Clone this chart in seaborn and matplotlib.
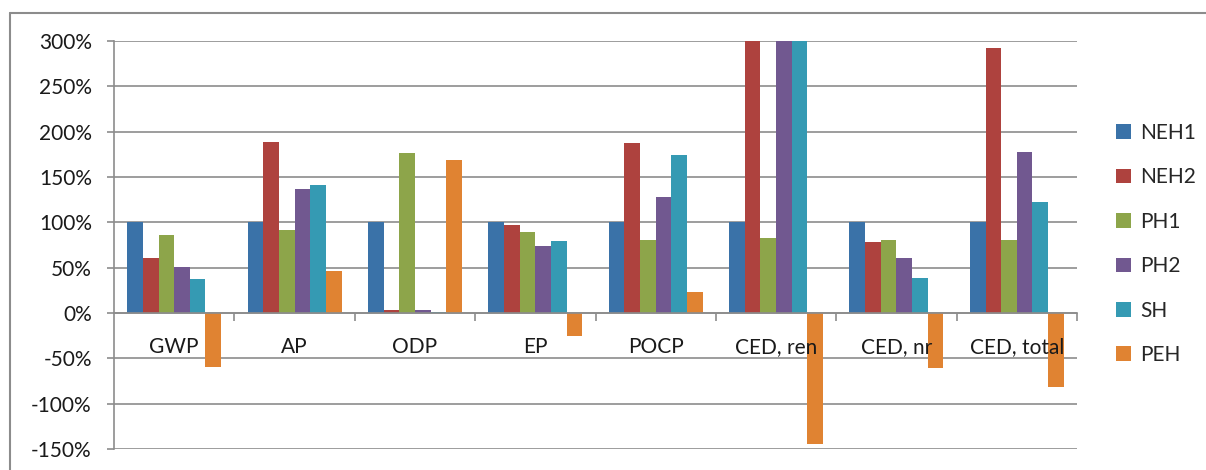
import numpy as np
import pandas as pd
import matplotlib
matplotlib.use("Agg")
import matplotlib.pyplot as plt
from matplotlib.lines import Line2D
from matplotlib.ticker import FixedLocator, FuncFormatter
import seaborn as sns

# Impact categories and heating systems (values in % relative to NEH1)
categories = ["GWP", "AP", "ODP", "EP", "POCP", "CED, ren", "CED, nr", "CED, total"]
systems = ["NEH1", "NEH2", "PH1", "PH2", "SH", "PEH"]

neh1 = [100, 100, 100, 100, 100, 100, 100, 100]
neh2 = [61, 189, 3, 97, 187, 420, 78, 292]
ph1 = [86, 91, 177, 89, 81, 83, 80, 80]
ph2 = [51, 137, 3, 74, 128, 360, 61, 178]
sh = [38, 141, 1.5, 79, 174, 380, 39, 122]
peh = [-60, 46, 169, -25, 23, -144, -61, -82]

colors = ["#3A72A8", "#AE423E", "#8DA54A", "#715890", "#359AB3", "#E08332"]

series = [neh1, neh2, ph1, ph2, sh, peh]
df = pd.DataFrame({
    "category": np.tile(categories, len(systems)),
    "system": np.repeat(systems, len(categories)),
    "value": np.concatenate(series),
})

sns.set_style("white")
plt.rcParams["font.family"] = ["Lato", "DejaVu Sans"]

W, H = 1206, 470
fig = plt.figure(figsize=(W / 100, H / 100), dpi=100)
ax = fig.add_axes([114 / W, 1 - 449 / H, (1077 - 114) / W, (449 - 41) / H])

sns.barplot(data=df, x="category", y="value", hue="system", order=categories,
            hue_order=systems, palette=colors, width=0.78, saturation=1,
            ax=ax, legend=True, edgecolor="none", linewidth=0)

grid_c = "#8C8C8C"
ax.set_ylim(-150, 300)
ax.set_xlim(-0.5, len(categories) - 0.5)
ax.yaxis.set_major_locator(FixedLocator(np.arange(-150, 301, 50)))
ax.yaxis.set_major_formatter(FuncFormatter(lambda v, p: f"{int(v)}%"))
ax.grid(axis="y", color=grid_c, linewidth=1.2, zorder=0)
ax.set_axisbelow(True)
# category labels sit on top of the bars
ax.xaxis.set_zorder(5)

for side in ["top", "right"]:
    ax.spines[side].set_visible(False)
ax.spines["left"].set_color(grid_c)
ax.spines["left"].set_linewidth(1.2)
ax.spines["bottom"].set_position(("data", 0))
ax.spines["bottom"].set_color(grid_c)
ax.spines["bottom"].set_linewidth(1.2)

ax.tick_params(axis="y", direction="out", length=5, width=1.2, color=grid_c,
               pad=11, labelsize=15, labelcolor="#1a1a1a", left=True)
ax.set_xticks(np.arange(len(categories)))
ax.set_xticklabels(categories)
ax.set_xticks(np.arange(len(categories)) + 0.5, minor=True)
ax.tick_params(axis="x", which="major", length=0, pad=17, labelsize=15,
               labelcolor="#1a1a1a")
ax.tick_params(axis="x", which="minor", direction="out", length=6, width=1.2,
               color=grid_c, bottom=True)
ax.set_xlabel("")
ax.set_ylabel("")

handles, labels = ax.get_legend_handles_labels()
ax.legend_.remove()
fig.legend(handles, labels, loc="center left",
           bbox_to_anchor=(1116 / W, 1 - 244 / H), frameon=False,
           fontsize=15, handlelength=0.7, handleheight=0.7,
           handletextpad=0.45, labelspacing=1.17, borderpad=0,
           borderaxespad=0)

# Chart-area border
fig.add_artist(Line2D([9.5 / W, 9.5 / W], [0, 1 - 13 / H],
                      transform=fig.transFigure, color=grid_c, linewidth=1.5))
fig.add_artist(Line2D([9.5 / W, 1], [1 - 13 / H, 1 - 13 / H],
                      transform=fig.transFigure, color=grid_c, linewidth=1.5))

fig.savefig("out.png", dpi=100)
